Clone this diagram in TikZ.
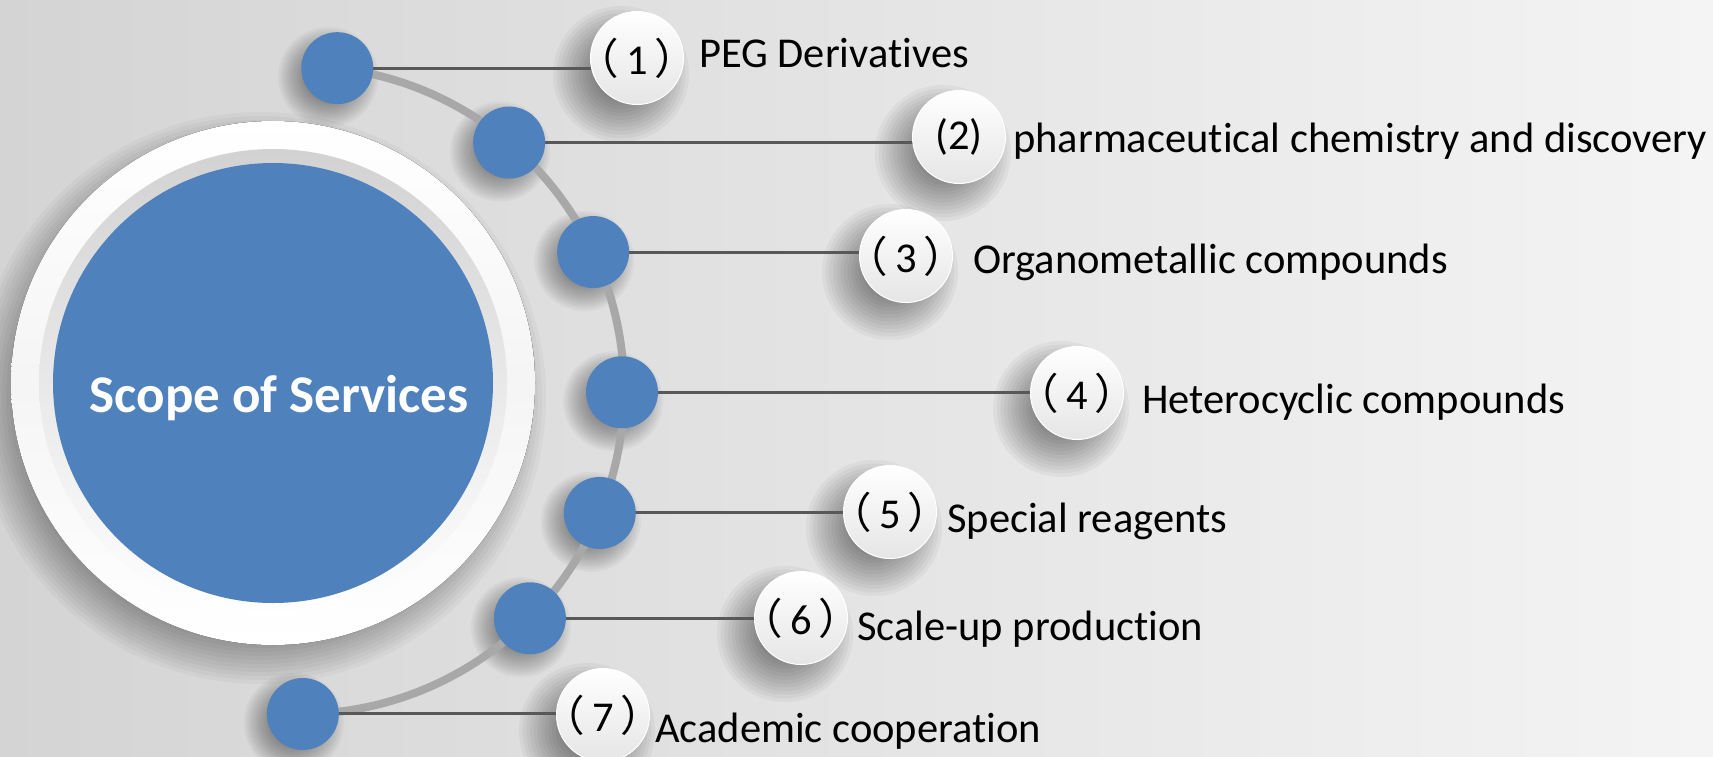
\documentclass[tikz,border=0pt]{standalone}
\usepackage{fontspec}
\setmainfont{Carlito}[Ligatures=NoCommon]
\newfontfamily\cjk{Noto Sans CJK SC}
\usetikzlibrary{calc}
\definecolor{bgL}{HTML}{D4D4D4}
\definecolor{bgR}{HTML}{F4F4F4}
\definecolor{dotblue}{HTML}{4F81BD}
\definecolor{arcgray}{HTML}{A8A8A8}
\definecolor{linegray}{HTML}{585858}
\definecolor{ringgray}{HTML}{D2D2D2}
\pgfdeclarelayer{bg}
\pgfdeclarelayer{shad}
\pgfdeclarelayer{lines}
\pgfsetlayers{bg,shad,lines,main}
\newcommand\softshadow[4]{%
  \foreach \k in {0,...,11}{\fill[black,opacity=0.03] (#1,#2) circle[radius={(#3+#4-\k*#4/6)*1pt}];}}
\newcommand\fwp[1]{\makebox[0.5em][r]{\cjk（}\hspace{7pt}#1\hspace{7pt}\makebox[0.5em][l]{\cjk）}}
\tikzset{
  dot/.style={circle, fill=dotblue, minimum size=72pt, inner sep=0pt},
  lab/.style={circle, minimum size=93pt, inner sep=0pt, top color=white, bottom color=black!10, draw=white, line width=1pt,
     font=\fontsize{42.5}{48}\selectfont},
  txt/.style={anchor=base west, inner sep=0pt, font=\fontsize{42.5}{48}\selectfont},
  conn/.style={draw=linegray, line width=3pt},
  arcline/.style={draw=arcgray, line width=8pt}
}
\begin{document}
\begin{tikzpicture}[x=1pt,y=-1pt]
\useasboundingbox (0,0) rectangle (1713,756);
\begin{pgfonlayer}{bg}
  \shade[left color=bgL, right color=bgR] (0,0) rectangle (1713,756);
\end{pgfonlayer}
% central disc
\begin{pgfonlayer}{shad}
  \softshadow{260}{398}{262}{24}
\end{pgfonlayer}
\fill[top color=white, bottom color=white, middle color=black!4] (273,383) circle[radius=262pt];
\shade[top color=ringgray, bottom color=white] (273,383) circle[radius=234pt];
\fill[dotblue] (273,383) circle[radius=220pt];
\node[inner sep=0pt, anchor=base, text=white, font=\fontsize{53}{60}\selectfont\bfseries] (title) at (279,412) {Scope of Services};
% dots on the arc centred at (300,390), radius 324
\coordinate (arcC) at (300,390);
\node[dot] (d1) at ($(arcC)+(-83.4:324)$) {};
\node[dot] (d2) at ($(arcC)+(-49.8:324)$) {};
\node[dot] (d3) at ($(arcC)+(-25.2:324)$) {};
\node[dot] (d4) at ($(arcC)+(0.4:322)$) {};
\node[dot] (d5) at ($(arcC)+(22.3:324)$) {};
\node[dot] (d6) at ($(arcC)+(44.8:324)$) {};
\node[dot] (d7) at ($(arcC)+(89.5:324)$) {};
% label circles
\node[lab] (c1) at (637,58) {\fwp{1}};
\node[lab] (c2) at (959,137) {(2)};
\node[lab] (c3) at (906,256) {\fwp{3}};
\node[lab] (c4) at (1077,393) {\fwp{4}};
\node[lab] (c5) at (890,512) {\fwp{5}};
\node[lab] (c6) at (801,618) {\fwp{6}};
\node[lab] (c7) at (603,715) {\fwp{7}};
% texts
\node[txt] (t1) at (699,67) {PEG Derivatives};
\node[txt] (t2) at (1013,152) {pharmaceutical chemistry and discovery};
\node[txt] (t3) at (973,273) {Organometallic compounds};
\node[txt] (t4) at (1142,413) {Heterocyclic compounds};
\node[txt] (t5) at (947,532) {Special reagents};
\node[txt] (t6) at (857,640) {Scale-up production};
\node[txt] (t7) at (655,742) {Academic cooperation};
% shadows
\begin{pgfonlayer}{shad}
  \foreach \n in {d1,d2,d3,d4,d5,d6,d7}{
    \path (\n.center) coordinate (s);
    \path let \p1=(s) in coordinate (s2) at (\x1-9pt,\y1-9pt);
    \foreach \k in {0,...,11}{\fill[black,opacity=0.035] (s2) circle[radius={(36+14-\k*14/6)*1pt}];}
  }
  \foreach \n in {c1,c2,c3,c4,c5,c6,c7}{
    \path (\n.center) coordinate (s);
    \path let \p1=(s) in coordinate (s2) at (\x1-16pt,\y1-16pt);
    \foreach \k in {0,...,11}{\fill[black,opacity=0.04] (s2) circle[radius={(46+22-\k*22/6)*1pt}];}
  }
\end{pgfonlayer}
% connectors
\begin{pgfonlayer}{lines}
  \draw[arcline] (d1.center) arc[start angle=-83.4, end angle=89.5, radius=324];
  \foreach \i in {1,...,7}{
    \draw[conn] (d\i.center) -- (d\i.center -| c\i.center);
  }
\end{pgfonlayer}
\end{tikzpicture}
\end{document}
